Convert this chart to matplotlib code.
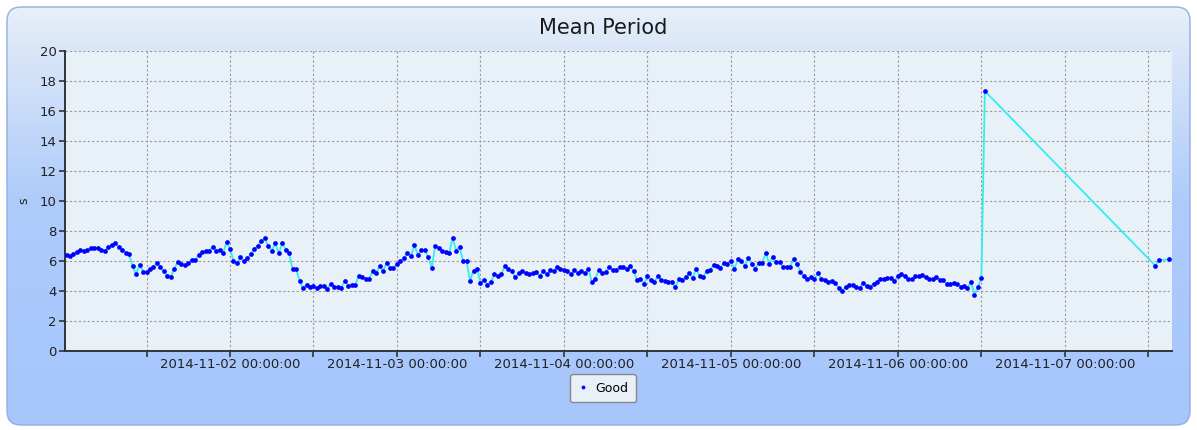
import numpy as np
import pandas as pd
import matplotlib
matplotlib.use("Agg")
import matplotlib.pyplot as plt
import matplotlib.dates as mdates
from matplotlib.patches import FancyBboxPatch
from matplotlib.colors import to_rgb

# half-hourly mean period values, 2014-11-01 00:00 .. 2014-11-06 12:30
period_main = [
    6.5, 6.42, 6.33, 6.45, 6.62, 6.72, 6.69, 6.75, 6.87, 6.85, 6.9, 6.73, 6.66, 6.95, 7.1, 7.2,
    6.95, 6.75, 6.53, 6.44, 5.65, 5.11, 5.75, 5.3, 5.25, 5.5, 5.6, 5.88, 5.6, 5.32, 5.03, 4.96,
    5.5, 5.92, 5.8, 5.76, 5.84, 6.08, 6.04, 6.42, 6.6, 6.69, 6.69, 6.93, 6.7, 6.73,
    6.51, 7.27, 6.82, 6.0, 5.87, 6.24, 5.98, 6.18, 6.44, 6.82, 7.02, 7.36, 7.51, 7.0, 6.69, 7.18,
    6.51, 7.18, 6.73, 6.51, 5.44, 5.44, 4.69, 4.18, 4.42, 4.29, 4.36, 4.18, 4.36, 4.36, 4.16, 4.49,
    4.29, 4.29, 4.22, 4.69, 4.36, 4.42, 4.42, 4.98, 4.93, 4.8, 4.8, 5.33, 5.18,
    5.67, 5.31, 5.89, 5.56, 5.56, 5.8, 5.98, 6.18, 6.56, 6.31, 7.07, 6.38, 6.73, 6.73, 6.24, 5.56,
    7.0, 6.87, 6.69, 6.58, 6.51, 7.56, 6.69, 6.93, 6.0, 6.0, 4.69, 5.36, 5.49, 4.56, 4.73, 4.42,
    4.62, 5.11, 4.98, 5.11, 5.69, 5.49, 5.31, 4.91, 5.18, 5.31, 5.18, 5.11,
    5.18, 5.27, 4.98, 5.31, 5.11, 5.38, 5.31, 5.62, 5.49, 5.42, 5.36, 5.11, 5.42, 5.18, 5.31, 5.18,
    5.49, 4.62, 4.8, 5.42, 5.18, 5.24, 5.62, 5.38, 5.42, 5.62, 5.62, 5.49, 5.67, 5.36, 4.73, 4.8,
    4.49, 4.98, 4.73, 4.62, 4.98, 4.73, 4.69, 4.62, 4.62, 4.24, 4.8, 4.76, 4.93,
    5.18, 4.87, 5.49, 4.98, 4.91, 5.36, 5.42, 5.73, 5.69, 5.56, 5.89, 5.82, 5.98, 5.49, 6.11, 6.0,
    5.69, 6.18, 5.82, 5.49, 5.87, 5.89, 6.51, 5.82, 6.29, 5.93, 5.93, 5.62, 5.62, 5.62, 6.11, 5.8,
    5.29, 4.98, 4.8, 4.91, 4.8, 5.18, 4.8, 4.73, 4.62, 4.69, 4.53, 4.18,
    4.0, 4.29, 4.42, 4.42, 4.29, 4.22, 4.56, 4.36, 4.29, 4.49, 4.62, 4.8, 4.8, 4.87, 4.87, 4.67,
    4.98, 5.11, 4.98, 4.8, 4.8, 4.98, 4.98, 5.04, 4.91, 4.82, 4.82, 4.91, 4.73, 4.73, 4.49, 4.49,
    4.56, 4.49, 4.29, 4.36, 4.18, 4.62, 3.76, 4.24, 4.87,
    17.33,
]
# after the gap
tail_times = ["2014-11-07 13:00", "2014-11-07 13:30", "2014-11-07 15:00"]
tail_period = [5.69, 6.05, 6.11]

times = list(pd.date_range("2014-11-01 00:00", periods=len(period_main), freq="30min"))
times += list(pd.to_datetime(tail_times))
values = period_main + tail_period

W, H = 1197, 430
fig = plt.figure(figsize=(W / 100, H / 100), dpi=100)
fig.patch.set_facecolor("white")

# rounded gradient panel behind everything
bg = fig.add_axes([0, 0, 1, 1], zorder=-10)
bg.set_xlim(0, W)
bg.set_ylim(H, 0)
bg.axis("off")
ys = np.arange(7, 426)
stops = [7, 40, 200, 425]
cols = [to_rgb(c) for c in ["#e8f0fa", "#dde8f8", "#aecbfb", "#a6c6fd"]]
grad = np.stack([np.interp(ys, stops, [c[i] for c in cols]) for i in range(3)], axis=-1)
grad = grad[:, None, :]
im = bg.imshow(grad, extent=(7, 1190, 425, 7), aspect="auto", origin="upper")
panel = FancyBboxPatch((7, 7), 1183, 418, boxstyle="round,pad=0,rounding_size=14",
                       facecolor="none", edgecolor="#93aee0", linewidth=1.0)
bg.add_patch(panel)
im.set_clip_path(panel)

ax = fig.add_axes([65 / W, 1 - 351 / H, (1172 - 65) / W, 300 / H])
ax.set_facecolor("#e8f0f8")

ax.plot(times, values, color="#33eeee", linewidth=1.3, zorder=2)
ax.plot(times, values, linestyle="none", marker="o", markersize=3.4,
        color="#0000ff", markeredgewidth=0, zorder=3, label="Good")

ax.set_ylim(0, 20)
ax.set_yticks(range(0, 21, 2))
ax.set_xlim(pd.Timestamp("2014-11-01 00:17"), pd.Timestamp("2014-11-07 15:24"))
ax.xaxis.set_major_locator(mdates.HourLocator(byhour=[0]))
ax.xaxis.set_minor_locator(mdates.HourLocator(byhour=[12]))
ax.xaxis.set_major_formatter(mdates.DateFormatter("%Y-%m-%d %H:%M:%S"))

ax.grid(True, which="both", axis="x", color="#9a9a9a", linestyle=(0, (2, 2)), linewidth=0.8)
ax.grid(True, which="major", axis="y", color="#9a9a9a", linestyle=(0, (2, 2)), linewidth=0.8)
ax.tick_params(axis="both", which="both", direction="out", length=4, width=1.2,
               color="#333333", labelsize=9.5, labelcolor="#222222")
ax.tick_params(axis="x", which="major", pad=1)
ax.tick_params(axis="y", which="major", pad=2)

for side in ["top", "right"]:
    ax.spines[side].set_visible(False)
for side in ["left", "bottom"]:
    ax.spines[side].set_color("#333333")
    ax.spines[side].set_linewidth(1.4)

ax.set_ylabel("s", fontsize=9, color="#222222")
ax.yaxis.set_label_coords(-0.031, 0.5)
fig.text(603 / W, 1 - 28 / H, "Mean Period", ha="center", va="center",
         fontsize=15, color="#1a1a1a")

leg = fig.legend(loc="center", bbox_to_anchor=(603 / W, 1 - 388 / H), fontsize=9,
                 frameon=True, fancybox=True, markerscale=0.8, handlelength=0.8,
                 handletextpad=0.6, borderpad=0.6)
leg.get_frame().set_facecolor("#eaf0f8")
leg.get_frame().set_edgecolor("#888888")
leg.get_frame().set_alpha(1)

plt.savefig("out.png", dpi=100)
